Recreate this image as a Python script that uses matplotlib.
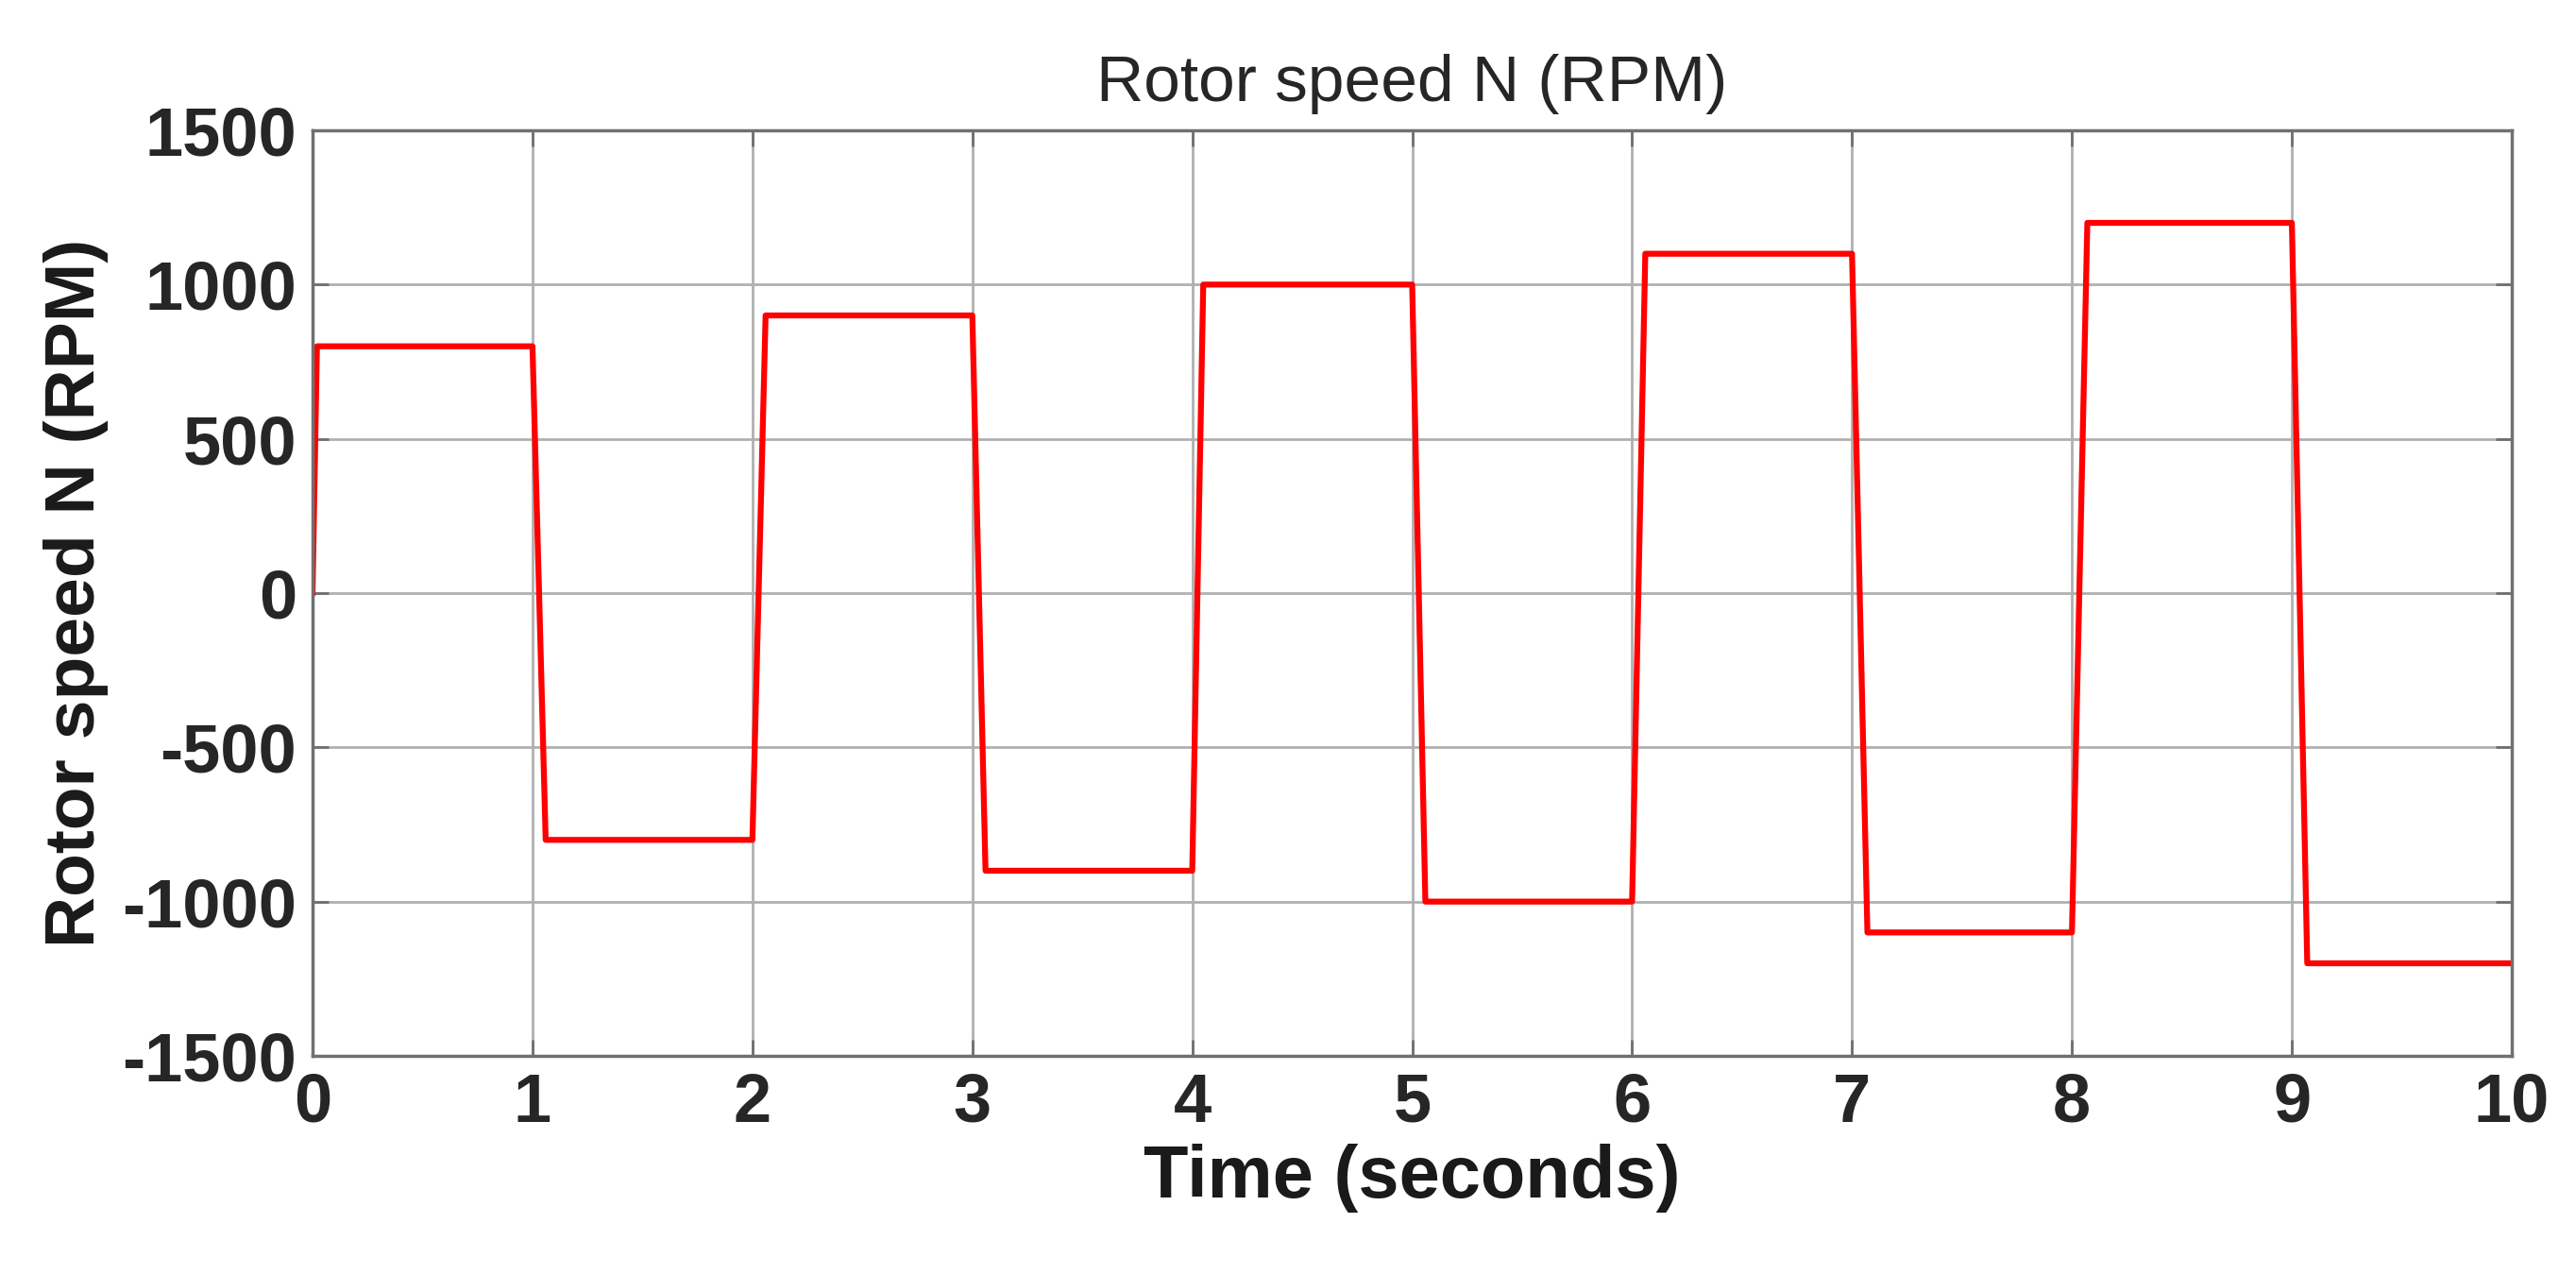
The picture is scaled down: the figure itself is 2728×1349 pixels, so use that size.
import matplotlib
matplotlib.use("Agg")
import matplotlib.pyplot as plt

# Breakpoints of the speed trace (time s, speed RPM)
time_s = [0.0, 0.02, 1.0, 1.06, 2.0, 2.06, 3.0, 3.06, 4.0, 4.05, 5.0, 5.06,
          6.0, 6.06, 7.0, 7.07, 8.0, 8.07, 9.0, 9.07, 10.0]
speed_rpm = [0, 800, 800, -800, -800, 900, 900, -900, -900, 1000, 1000, -1000,
             -1000, 1100, 1100, -1100, -1100, 1200, 1200, -1200, -1200]

x_ticks = list(range(0, 11))
y_ticks = [-1500, -1000, -500, 0, 500, 1000, 1500]

plt.rcParams["font.family"] = ["Liberation Sans", "DejaVu Sans"]
plt.rcParams["axes.unicode_minus"] = False

fig = plt.figure(figsize=(27.28, 13.49), dpi=100)
ax = fig.add_axes([331 / 2728, 1 - 1118 / 1349, (2660 - 331) / 2728, (1118 - 138) / 1349])

ax.plot(time_s, speed_rpm, color="#ff0000", linewidth=4.5)

ax.set_xlim(0, 10)
ax.set_ylim(-1500, 1500)
ax.set_xticks(x_ticks)
ax.set_yticks(y_ticks)
ax.grid(True, color="#b0b0b0", linewidth=2)
for s in ax.spines.values():
    s.set_color("#707070")
    s.set_linewidth(2.5)
ax.tick_params(direction="in", length=12, width=2, colors="#707070",
               labelcolor="#262626", labelsize=52, right=True, top=True, pad=12)
for lab in ax.get_xticklabels() + ax.get_yticklabels():
    lab.set_fontweight("bold")

ax.set_title("Rotor speed N (RPM)", fontsize=50, color="#262626", pad=22)
ax.set_xlabel("Time (seconds)", fontsize=56, fontweight="bold", color="#1a1a1a", labelpad=6)
ax.set_ylabel("Rotor speed N (RPM)", fontsize=54, fontweight="bold", color="#1a1a1a", labelpad=10)

fig.savefig("out.png", dpi=100, facecolor="white")
